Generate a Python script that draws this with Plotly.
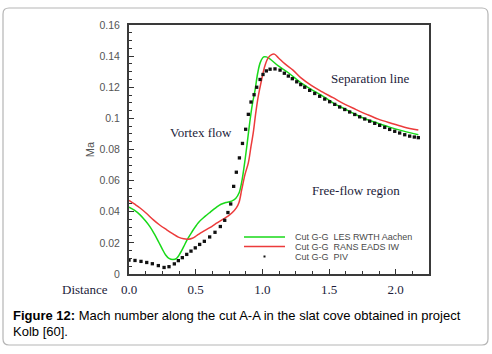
import plotly.graph_objects as go

# ---- data ----
les_x = [0.000, 0.040, 0.083, 0.120, 0.158, 0.190, 0.220, 0.250, 0.275, 0.300, 0.330, 0.357,
         0.385, 0.410, 0.440, 0.470, 0.520, 0.570, 0.610, 0.650, 0.690, 0.730, 0.770, 0.800,
         0.825, 0.845, 0.865, 0.885, 0.905, 0.925, 0.945, 0.965, 0.985, 1.010, 1.030, 1.060,
         1.120, 1.200, 1.280, 1.360, 1.450, 1.530, 1.620, 1.700, 1.780, 1.870, 1.960, 2.060, 2.170]
les_y = [0.0430, 0.0410, 0.0380, 0.0345, 0.0303, 0.0258, 0.0210, 0.0160, 0.0122, 0.0100, 0.0093, 0.0100,
         0.0135, 0.0176, 0.0225, 0.0268, 0.0330, 0.0370, 0.0398, 0.0425, 0.0448, 0.0460, 0.0468, 0.0485,
         0.0520, 0.0590, 0.0700, 0.0830, 0.0970, 0.1090, 0.1180, 0.1290, 0.1360, 0.1395, 0.1395, 0.1380,
         0.1337, 0.1290, 0.1235, 0.1190, 0.1145, 0.1100, 0.1060, 0.1025, 0.0994, 0.0968, 0.0942, 0.0918, 0.0895]

rans_x = [0.000, 0.040, 0.083, 0.130, 0.183, 0.230, 0.283, 0.330, 0.370, 0.410, 0.445, 0.475,
          0.510, 0.545, 0.580, 0.620, 0.660, 0.700, 0.740, 0.775, 0.805, 0.825, 0.845, 0.870,
          0.895, 0.915, 0.932, 0.950, 0.970, 0.995, 1.020, 1.045, 1.070, 1.090, 1.120, 1.170,
          1.230, 1.290, 1.370, 1.450, 1.530, 1.620, 1.700, 1.783, 1.870, 1.960, 2.060, 2.170]
rans_y = [0.0473, 0.0450, 0.0424, 0.0390, 0.0348, 0.0315, 0.0284, 0.0258, 0.0237, 0.0226, 0.0224, 0.0230,
          0.0248, 0.0267, 0.0285, 0.0305, 0.0328, 0.0350, 0.0370, 0.0395, 0.0425, 0.0460, 0.0540, 0.0640,
          0.0714, 0.0820, 0.0908, 0.1030, 0.1144, 0.1250, 0.1340, 0.1390, 0.1410, 0.1413, 0.1390, 0.1350,
          0.1310, 0.1260, 0.1210, 0.1170, 0.1133, 0.1090, 0.1058, 0.1026, 0.0995, 0.0970, 0.0945, 0.0925]

piv_x = [0.000, 0.045, 0.090, 0.133, 0.175, 0.220, 0.263, 0.300, 0.340, 0.370, 0.400, 0.433,
         0.465, 0.497, 0.530, 0.565, 0.605, 0.645, 0.685, 0.718, 0.742, 0.763, 0.785, 0.805,
         0.828, 0.851, 0.875, 0.895, 0.915, 0.938, 0.958, 0.983, 1.005, 1.030, 1.058, 1.095,
         1.133, 1.165, 1.195, 1.225, 1.258, 1.288, 1.318, 1.355, 1.393, 1.430, 1.468, 1.505,
         1.543, 1.580, 1.618, 1.655, 1.693, 1.730, 1.768, 1.805, 1.843, 1.880, 1.918, 1.955,
         1.993, 2.030, 2.068, 2.105, 2.140, 2.170]
piv_y = [0.0090, 0.0087, 0.0081, 0.0074, 0.0066, 0.0054, 0.0042, 0.0047, 0.0065, 0.0086, 0.0105, 0.0126,
         0.0147, 0.0168, 0.0190, 0.0210, 0.0238, 0.0268, 0.0305, 0.0345, 0.0395, 0.0450, 0.0563, 0.0654,
         0.0746, 0.0839, 0.0930, 0.1026, 0.1105, 0.1152, 0.1200, 0.1250, 0.1282, 0.1305, 0.1316, 0.1318,
         0.1310, 0.1290, 0.1272, 0.1255, 0.1235, 0.1217, 0.1200, 0.1180, 0.1160, 0.1142, 0.1124, 0.1107,
         0.1090, 0.1073, 0.1057, 0.1041, 0.1025, 0.1010, 0.0996, 0.0982, 0.0968, 0.0955, 0.0942, 0.0929,
         0.0917, 0.0906, 0.0895, 0.0886, 0.0880, 0.0876]

x_ticks = [0.0, 0.5, 1.0, 1.5, 2.0]
x_tick_labels = ["0.0", "0.5", "1.0", "1.5", "2.0"]
y_ticks = [0, 0.02, 0.04, 0.06, 0.08, 0.1, 0.12, 0.14, 0.16]
y_tick_labels = ["0", "0.02", "0.04", "0.06", "0.08", "0.1", "0.12", "0.14", "0.16"]

legend_names = ["Cut G-G  LES RWTH Aachen", "Cut G-G  RANS EADS IW", "Cut G-G  PIV"]

GREEN = "#19d919"
RED = "#ec3b3b"
SERIF = "Liberation Serif, Times New Roman, serif"
SANS = "Liberation Sans, Arial, sans-serif"

fig = go.Figure()
fig.add_trace(go.Scatter(x=les_x, y=les_y, mode="lines", line=dict(color=GREEN, width=1.5, shape="spline"),
                         name=legend_names[0], showlegend=False))
fig.add_trace(go.Scatter(x=rans_x, y=rans_y, mode="lines", line=dict(color=RED, width=1.5, shape="spline"),
                         name=legend_names[1], showlegend=False))
fig.add_trace(go.Scatter(x=piv_x, y=piv_y, mode="markers",
                         marker=dict(symbol="square", size=3.3, color="#111111"),
                         name=legend_names[2], showlegend=False))

# plot area in pixels: left 129, right 429, top 25, bottom 274
PW, PH = 300.0, 249.0
def px(x):
    return (x - 129) / PW
def py(y):
    return (274 - y) / PH

shapes = []
# outer rounded frame
l, r, t, b = px(3), px(488), py(8), py(345)
rx, ry = 6 / PW, 6 / PH
path = (f"M {l+rx},{t} L {r-rx},{t} Q {r},{t} {r},{t-ry} L {r},{b+ry} Q {r},{b} {r-rx},{b} "
        f"L {l+rx},{b} Q {l},{b} {l},{b+ry} L {l},{t-ry} Q {l},{t} {l+rx},{t} Z")
shapes.append(dict(type="path", xref="paper", yref="paper", path=path,
                   line=dict(color="#b5b5b5", width=1.2), layer="below"))

# legend (manual, compact like the reference)
leg_rows = [237, 246.5, 256.5]
shapes.append(dict(type="line", xref="paper", yref="paper", x0=px(244), x1=px(285),
                   y0=py(leg_rows[0]), y1=py(leg_rows[0]), line=dict(color=GREEN, width=1.5)))
shapes.append(dict(type="line", xref="paper", yref="paper", x0=px(244), x1=px(285),
                   y0=py(leg_rows[1]), y1=py(leg_rows[1]), line=dict(color=RED, width=1.5)))
shapes.append(dict(type="rect", xref="paper", yref="paper", x0=px(263.5), x1=px(265.5),
                   y0=py(leg_rows[2] + 1), y1=py(leg_rows[2] - 1), fillcolor="#111111", line=dict(width=0)))

annotations = []
for name, row in zip(legend_names, leg_rows):
    annotations.append(dict(xref="paper", yref="paper", x=px(293), y=py(row), text=name, showarrow=False,
                            xanchor="left", yanchor="middle", font=dict(family=SANS, size=9, color="#4a4a4a")))

# region labels
for txt, cx, cy in [("Vortex flow", 201, 132), ("Separation line", 370, 78), ("Free-flow region", 356, 190)]:
    annotations.append(dict(xref="paper", yref="paper", x=px(cx), y=py(cy), text=txt, showarrow=False,
                            xanchor="center", yanchor="middle", font=dict(family=SERIF, size=13, color="#1c1c3a")))

annotations.append(dict(xref="paper", yref="paper", x=px(85), y=py(289), text="Distance", showarrow=False,
                        xanchor="center", yanchor="middle", font=dict(family=SERIF, size=13, color="#1c1c3a")))

# caption
annotations.append(dict(xref="paper", yref="paper", x=px(11), y=py(315), showarrow=False,
                        text="<b>Figure 12:</b> Mach number along the cut A-A in the slat cove obtained in project",
                        xanchor="left", yanchor="middle", font=dict(family=SANS, size=13, color="#000000")))
annotations.append(dict(xref="paper", yref="paper", x=px(11), y=py(331), showarrow=False,
                        text="Kolb [60].",
                        xanchor="left", yanchor="middle", font=dict(family=SANS, size=13, color="#000000")))

fig.update_layout(
    width=492, height=354,
    margin=dict(l=129, r=63, t=25, b=80),
    paper_bgcolor="white", plot_bgcolor="white",
    showlegend=False,
    shapes=shapes, annotations=annotations,
    xaxis=dict(range=[0, 2.25], tickvals=x_ticks, ticktext=x_tick_labels,
               ticks="inside", ticklen=5, tickwidth=1, tickcolor="#333",
               minor=dict(ticks="inside", ticklen=3, dtick=0.125, tick0=0, tickcolor="#333"),
               showline=True, linecolor="#3a3a3a", linewidth=2, mirror=True,
               showgrid=False, zeroline=False, ticklabelstandoff=2,
               tickfont=dict(family=SERIF, size=13, color="#1c1c3a")),
    yaxis=dict(range=[0, 0.16], tickvals=y_ticks, ticktext=y_tick_labels,
               ticks="inside", ticklen=5, tickwidth=1, tickcolor="#333",
               minor=dict(ticks="inside", ticklen=3, dtick=0.005, tick0=0, tickcolor="#333"),
               showline=True, linecolor="#3a3a3a", linewidth=2, mirror=True,
               showgrid=False, zeroline=False, ticklabelstandoff=5,
               title=dict(text="Ma", font=dict(family=SANS, size=11, color="#555"), standoff=3),
               tickfont=dict(family=SANS, size=10.5, color="#555")),
)

fig.write_html("out.html", config={"displayModeBar": False},
               post_script="document.body.style.margin='0px';document.body.style.overflow='hidden';")
